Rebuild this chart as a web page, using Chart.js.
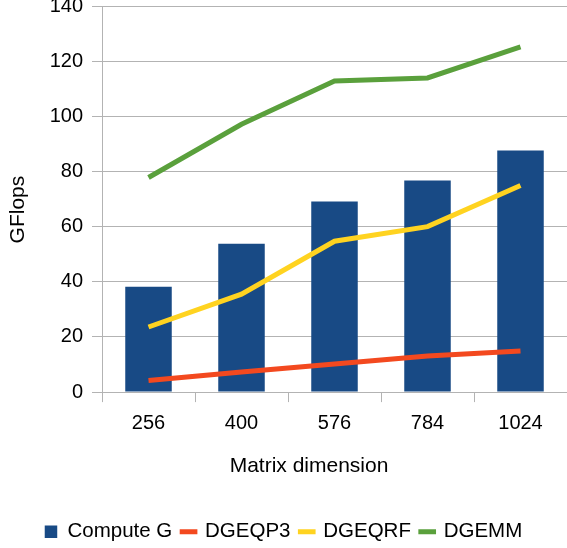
<!DOCTYPE html>
<html>
<head>
<meta charset="utf-8">
<script src="https://cdn.jsdelivr.net/npm/chart.js@4/dist/chart.umd.min.js"></script>
<style>
  html, body { margin: 0; padding: 0; background: #fff; overflow: hidden; width: 567px; height: 548px; }
  #wrap { position: absolute; left: 0; top: -15px; width: 567px; height: 567px; }
</style>
</head>
<body>
<div id="wrap"><canvas id="chart" width="567" height="567"></canvas></div>
<script>
// Matrix sizes along the x axis
const categories = ['256', '400', '576', '784', '1024'];

// Performance in GFlops per routine
const computeG = [38.2, 53.8, 69.1, 76.7, 87.6];
const dgeqp3   = [4.2, 7.3, 10.2, 13.1, 14.9];
const dgeqrf   = [23.6, 35.5, 54.7, 60.0, 74.9];
const dgemm    = [77.8, 97.1, 112.8, 113.9, 125.2];

// Value axis ticks
const yTicks = [0, 20, 40, 60, 80, 100, 120, 140];

// Axis titles
const xTitle = 'Matrix dimension';
const yTitle = 'GFlops';

const FONT = "'Liberation Sans', Arial, sans-serif";
const GRID = '#b3b3b3';

// Axis titles, placed relative to the plot area
const axisTitles = {
  id: 'axisTitles',
  afterDraw(chart) {
    const { ctx, chartArea: a } = chart;
    ctx.save();
    ctx.fillStyle = '#000';
    ctx.font = '21px ' + FONT;
    ctx.textAlign = 'center';
    ctx.textBaseline = 'middle';
    ctx.fillText(xTitle, a.left + 207, a.bottom + 74.5);
    ctx.translate(a.left - 83.5, (a.top + a.bottom) / 2 + 10.5);
    ctx.rotate(-Math.PI / 2);
    ctx.fillText(yTitle, 0, 0);
    ctx.restore();
  }
};

new Chart(document.getElementById('chart'), {
  data: {
    labels: categories,
    datasets: [
      { type: 'bar', label: 'Compute G', data: computeG, backgroundColor: '#184a85',
        borderWidth: 0, order: 1, pointStyle: 'rect',
        categoryPercentage: 1.0, barPercentage: 0.5 },
      { type: 'line', label: 'DGEQP3', data: dgeqp3, borderColor: '#f3491f', backgroundColor: '#f3491f',
        borderWidth: 5, pointRadius: 0, tension: 0, order: 0, pointStyle: 'line' },
      { type: 'line', label: 'DGEQRF', data: dgeqrf, borderColor: '#ffd320', backgroundColor: '#ffd320',
        borderWidth: 5, pointRadius: 0, tension: 0, order: 0, pointStyle: 'line' },
      { type: 'line', label: 'DGEMM', data: dgemm, borderColor: '#5aa03c', backgroundColor: '#5aa03c',
        borderWidth: 5, pointRadius: 0, tension: 0, order: 0, pointStyle: 'line' }
    ]
  },
  options: {
    responsive: false,
    animation: false,
    devicePixelRatio: 1,
    layout: { padding: 0 },
    plugins: {
      tooltip: { enabled: false },
      legend: {
        position: 'bottom',
        align: 'center',
        labels: {
          usePointStyle: true,
          boxWidth: 12.5,
          boxHeight: 12.5,
          padding: 10,
          color: '#000',
          font: { family: FONT, size: 20.5 },
          sort: (a, b) => a.datasetIndex - b.datasetIndex
        }
      }
    },
    scales: {
      x: {
        offset: true,
        grid: { offset: true, drawOnChartArea: false, drawTicks: true, tickLength: 10, color: GRID },
        border: { display: true, color: GRID, width: 1 },
        ticks: { color: '#000', padding: 9, font: { family: FONT, size: 20 } },
        afterFit(scale) { scale.height = 119.4; }
      },
      y: {
        min: 0,
        max: 140,
        afterBuildTicks(scale) { scale.ticks = yTicks.map(v => ({ value: v })); },
        grid: { color: GRID, tickLength: 10, drawTicks: true },
        border: { display: true, color: GRID, width: 1 },
        ticks: { color: '#000', padding: 9, font: { family: FONT, size: 20 } },
        afterFit(scale) { scale.width = 102; }
      }
    }
  },
  plugins: [axisTitles]
});
</script>
</body>
</html>
